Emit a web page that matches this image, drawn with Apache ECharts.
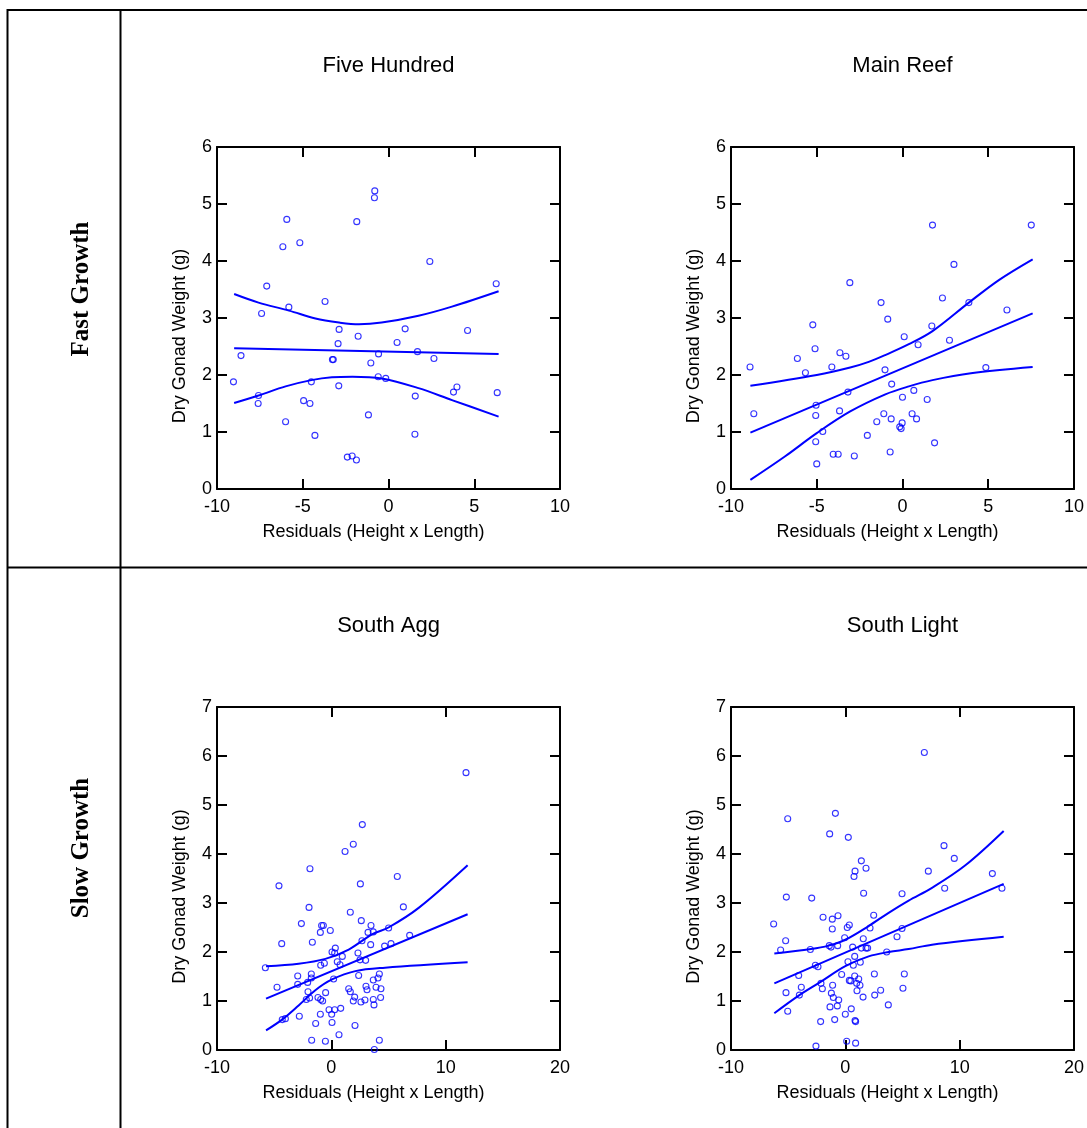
<!DOCTYPE html>
<html>
<head>
<meta charset="utf-8">
<script src="https://cdn.jsdelivr.net/npm/echarts@6/dist/echarts.min.js"></script>
<style>
html,body{margin:0;padding:0;background:#fff;}
#chart{width:1087px;height:1128px;}
</style>
</head>
<body>
<div id="chart"></div>
<script>
// ---------- DATA ----------
const panelTitles = ['Five Hundred', 'Main Reef', 'South Agg', 'South Light'];
const rowLabels = ['Fast Growth', 'Slow Growth'];
const xAxisName = 'Residuals (Height x Length)';
const yAxisName = 'Dry Gonad Weight (g)';

const fiveHundredPts = [
[-9.04,1.88],[-8.6,2.34],[-7.1,3.56],[-7.4,3.08],[-7.58,1.64],[-7.6,1.50],[-5.93,4.73],[-6.16,4.25],
[-5.17,4.32],[-5.81,3.19],[-6.0,1.18],[-4.5,1.88],[-4.95,1.55],[-4.58,1.50],[-4.29,0.94],[-3.7,3.29],
[-3.27,2.27],[-3.22,2.27],[-2.88,2.80],[-2.94,2.55],[-2.9,1.81],[-1.85,4.69],[-0.8,5.23],[-0.82,5.11],
[-1.77,2.68],[-0.58,2.37],[-1.03,2.21],[-0.6,1.97],[-0.16,1.94],[-1.17,1.30],[-2.4,0.56],[-2.12,0.58],
[-1.87,0.51],[0.5,2.57],[2.41,3.99],[6.28,3.60],[0.97,2.81],[4.61,2.78],[1.69,2.41],[2.65,2.29],
[1.56,1.63],[3.99,1.79],[3.79,1.70],[6.34,1.69],[1.54,0.96]
];
const fiveHundredFit = [[-9.0,2.47],[6.42,2.37]];
const fiveHundredUpper = [[-9.0,3.42],[-7.58,3.27],[-5.8,3.13],[-4.26,2.99],[-2.87,2.92],[-1.72,2.89],[-0.4,2.92],[1.75,3.04],[3.7,3.20],[6.42,3.47]];
const fiveHundredLower = [[-9.0,1.51],[-7.58,1.64],[-6.0,1.80],[-4.5,1.91],[-3.3,1.96],[-2.1,1.97],[-0.4,1.94],[1.75,1.77],[3.7,1.56],[6.42,1.27]];

const mainReefPts = [
[-8.89,2.14],[-8.67,1.32],[-5.23,2.88],[-5.1,2.46],[-6.13,2.29],[-5.66,2.04],[-3.07,3.62],[-4.12,2.14],
[-3.65,2.39],[-3.30,2.33],[-3.18,1.70],[-5.04,1.47],[-5.06,1.29],[-3.67,1.37],[-4.65,1.01],[-5.06,0.83],
[-5.0,0.44],[-4.04,0.61],[-3.75,0.61],[-2.81,0.58],[-2.05,0.94],[-1.25,3.27],[-0.86,2.98],[0.10,2.67],
[-1.02,2.09],[-0.63,1.84],[0.0,1.61],[-1.09,1.32],[-1.5,1.18],[-0.66,1.23],[-0.02,1.16],[-0.16,1.09],
[-0.08,1.06],[-0.72,0.65],[1.75,4.63],[7.51,4.63],[3.0,3.94],[2.33,3.35],[3.87,3.27],[6.09,3.14],
[1.71,2.86],[0.91,2.53],[2.74,2.61],[4.86,2.13],[0.66,1.73],[1.44,1.57],[0.56,1.32],[0.82,1.23],[1.87,0.81]
];
const mainReefFit = [[-8.87,0.99],[7.59,3.08]];
const mainReefUpper = [[-8.87,1.81],[-5.0,2.0],[-3.05,2.13],[-1.97,2.23],[-1.0,2.35],[0.37,2.54],[1.75,2.77],[3.87,3.27],[5.64,3.67],[7.59,4.03]];
const mainReefLower = [[-8.87,0.16],[-6.86,0.57],[-5.0,0.98],[-3.05,1.36],[-1.0,1.66],[0.37,1.80],[1.75,1.91],[3.99,2.03],[7.59,2.14]];

const southAggPts = [
[-5.77,1.68],[-4.58,3.35],[-4.34,2.17],[-4.75,1.28],[-4.29,0.62],[-4.02,0.64],[-2.8,0.69],[-2.62,2.58],
[-2.94,1.51],[-2.94,1.34],[-1.87,3.70],[-1.95,2.91],[-1.66,2.20],[-1.75,1.55],[-1.75,1.47],[-2.07,1.38],
[-2.04,1.19],[-2.19,1.03],[-1.9,1.06],[-1.72,0.20],[-1.37,0.54],[-0.96,2.40],[-0.85,2.54],[-0.70,2.54],
[-0.09,2.44],[-0.93,1.73],[-0.61,1.77],[-0.5,1.17],[-1.17,1.07],[-0.93,1.03],[-0.76,1.00],[-0.96,0.73],
[-0.52,0.18],[0.06,0.56],[0.03,0.73],[-0.2,0.82],[0.29,0.82],[0.82,0.85],[0.67,0.31],[0.2,1.45],
[0.35,2.08],[0.06,2.0],[0.29,1.98],[0.52,1.80],[0.76,1.74],[0.96,1.91],[1.2,4.05],[1.66,2.81],
[1.92,4.20],[2.71,4.60],[2.54,3.39],[2.62,2.64],[2.68,2.23],[2.33,1.98],[2.51,1.84],[3.0,1.83],
[3.21,2.40],[3.47,2.54],[3.67,2.41],[3.44,2.15],[2.39,1.52],[1.52,1.25],[1.66,1.19],[2.04,1.08],
[1.92,1.0],[2.07,0.50],[2.59,0.98],[2.94,1.02],[3.03,1.30],[3.12,1.23],[3.67,1.43],[3.91,1.28],
[4.08,1.47],[4.2,1.55],[4.34,1.25],[4.31,1.07],[3.67,1.03],[3.73,0.92],[3.76,0.01],[4.2,0.20],
[5.01,2.49],[4.66,2.12],[5.22,2.17],[11.78,5.66],[5.77,3.54],[6.30,2.92],[6.85,2.34]
];
const southAggFit = [[-5.71,1.05],[11.92,2.77]];
const southAggUpper = [[-5.71,1.71],[-2.86,1.76],[-0.52,1.86],[1.52,2.05],[3.56,2.36],[5.0,2.50],[7.64,2.90],[11.92,3.77]];
const southAggLower = [[-5.71,0.40],[-4.31,0.62],[-2.86,0.91],[-1.4,1.22],[0.06,1.44],[2.1,1.61],[4.7,1.68],[11.92,1.79]];

const southLightPts = [
[-6.27,2.57],[-5.66,2.04],[-5.22,2.23],[-5.04,4.72],[-5.16,3.12],[-5.19,1.17],[-5.04,0.79],[-4.08,1.52],
[-3.85,1.28],[-4.02,1.12],[-2.94,3.10],[-3.06,2.05],[-2.62,1.73],[-2.39,1.70],[-2.57,0.08],[-2.16,0.58],
[-1.95,2.71],[-1.37,4.41],[-0.87,4.83],[-1.14,2.67],[-0.64,2.74],[-1.14,2.47],[-1.40,2.13],[-1.25,2.10],
[-0.67,2.13],[-0.06,2.29],[0.17,2.50],[0.35,2.55],[0.26,4.34],[1.4,3.86],[1.81,3.71],[0.85,3.65],
[0.76,3.54],[1.6,3.20],[2.48,2.75],[2.16,2.49],[1.57,2.27],[0.64,2.10],[1.4,2.08],[1.81,2.08],
[1.95,2.08],[0.82,1.91],[0.23,1.80],[0.7,1.73],[1.31,1.79],[-2.13,1.36],[-2.01,1.25],[-1.11,1.32],
[-0.32,1.54],[0.35,1.42],[0.47,1.41],[0.82,1.51],[1.17,1.45],[0.99,1.36],[1.28,1.32],[1.02,1.21],
[1.55,1.08],[-1.22,1.16],[-1.05,1.07],[-0.58,1.02],[-0.70,0.90],[-1.34,0.88],[-0.93,0.62],[0.0,0.73],
[0.52,0.84],[0.85,0.60],[0.9,0.58],[0.12,0.18],[0.9,0.14],[2.54,1.55],[2.57,1.12],[3.09,1.22],
[3.76,0.92],[3.62,2.0],[4.52,2.31],[4.96,2.48],[4.96,3.19],[5.16,1.55],[5.04,1.26],[6.91,6.07],
[8.63,4.17],[9.53,3.91],[7.26,3.65],[12.86,3.60],[8.69,3.30],[13.7,3.30]
];
const southLightFit = [[-6.21,1.36],[13.85,3.39]];
const southLightUpper = [[-6.21,1.97],[-3.0,2.06],[-1.46,2.13],[0.0,2.25],[2.04,2.53],[3.79,2.80],[5.54,3.05],[7.58,3.31],[10.5,3.77],[13.85,4.47]];
const southLightLower = [[-6.21,0.75],[-4.08,1.11],[-2.16,1.39],[0.0,1.71],[2.04,1.91],[3.79,2.0],[5.54,2.06],[7.58,2.15],[13.85,2.31]];

// ---------- LAYOUT ----------
const BLUE = '#0000ff';
const FONT = 'Liberation Sans, Arial, sans-serif';
const panels = [
  {left:217, top:147, width:343, height:342, xMin:-10, xMax:10, xInt:5, yMax:6, pts:fiveHundredPts, fit:fiveHundredFit, up:fiveHundredUpper, lo:fiveHundredLower},
  {left:731, top:147, width:343, height:342, xMin:-10, xMax:10, xInt:5, yMax:6, pts:mainReefPts, fit:mainReefFit, up:mainReefUpper, lo:mainReefLower},
  {left:217, top:707, width:343, height:343, xMin:-10, xMax:20, xInt:10, yMax:7, pts:southAggPts, fit:southAggFit, up:southAggUpper, lo:southAggLower},
  {left:731, top:707, width:343, height:343, xMin:-10, xMax:20, xInt:10, yMax:7, pts:southLightPts, fit:southLightFit, up:southLightUpper, lo:southLightLower}
];

const grids = [], xAxes = [], yAxes = [], series = [], graphics = [];
const axisLine = {show:true, onZero:false, lineStyle:{color:'#000', width:2}};
const tick = {show:true, inside:true, length:10, lineStyle:{color:'#000', width:2}};

panels.forEach((p, i) => {
  grids.push({left:p.left, top:p.top, width:p.width, height:p.height, containLabel:false});
  const xb = {type:'value', gridIndex:i, min:p.xMin, max:p.xMax, interval:p.xInt, position:'bottom',
    axisLine, axisTick:tick, splitLine:{show:false},
    axisLabel:{show:true, margin:9, color:'#000', fontSize:18, fontFamily:FONT}};
  const xt = Object.assign({}, xb, {position:'top', axisLabel:{show:false}});
  xAxes.push(xb, xt);
  const yl = {type:'value', gridIndex:i, min:0, max:p.yMax, interval:1, position:'left',
    axisLine, axisTick:tick, splitLine:{show:false},
    axisLabel:{show:true, margin:5, color:'#000', fontSize:18, fontFamily:FONT}};
  const yr = Object.assign({}, yl, {position:'right', axisLabel:{show:false}});
  yAxes.push(yl, yr);

  const ax = {xAxisIndex:2*i, yAxisIndex:2*i};
  [p.up, p.fit, p.lo].forEach(d => {
    series.push(Object.assign({type:'line', data:d, smooth:0.35, symbol:'none',
      lineStyle:{color:BLUE, width:2}, silent:true, z:2}, ax));
  });
  series.push(Object.assign({type:'scatter', data:p.pts, symbol:'circle', symbolSize:6,
    itemStyle:{color:'rgba(255,255,255,0)', borderColor:BLUE, borderWidth:1.1}, z:3}, ax));

  const cx = p.left + p.width / 2, cy = p.top + p.height / 2;
  graphics.push({type:'text', x:cx, y:p.top - 81, style:{text:panelTitles[i], font:'22px ' + FONT, fill:'#000', align:'center', verticalAlign:'middle'}});
  graphics.push({type:'text', x:cx - 15, y:p.top + p.height + 43, style:{text:xAxisName, font:'18px ' + FONT, fill:'#000', align:'center', verticalAlign:'middle'}});
  graphics.push({type:'text', x:p.left - 37, y:cy + 18, rotation:Math.PI/2, style:{text:yAxisName, font:'18px ' + FONT, fill:'#000', align:'center', verticalAlign:'middle'}});
});

// table lines
const L = (x1,y1,x2,y2) => ({type:'line', shape:{x1,y1,x2,y2}, style:{stroke:'#000', lineWidth:2}});
graphics.push(L(8,10,1087,10), L(7.5,9,7.5,1128), L(120.5,9,120.5,1128), L(7,567.5,1087,567.5));
// row labels
graphics.push({type:'text', x:82, y:289, rotation:Math.PI/2, style:{text:rowLabels[0], font:'bold 25px Liberation Serif, Times New Roman, serif', fill:'#000', align:'center', verticalAlign:'middle'}});
graphics.push({type:'text', x:82, y:848, rotation:Math.PI/2, style:{text:rowLabels[1], font:'bold 25px Liberation Serif, Times New Roman, serif', fill:'#000', align:'center', verticalAlign:'middle'}});

const chart = echarts.init(document.getElementById('chart'));
chart.setOption({
  animation:false,
  backgroundColor:'#fff',
  grid:grids, xAxis:xAxes, yAxis:yAxes, series, graphic:graphics
});
</script>
</body>
</html>
